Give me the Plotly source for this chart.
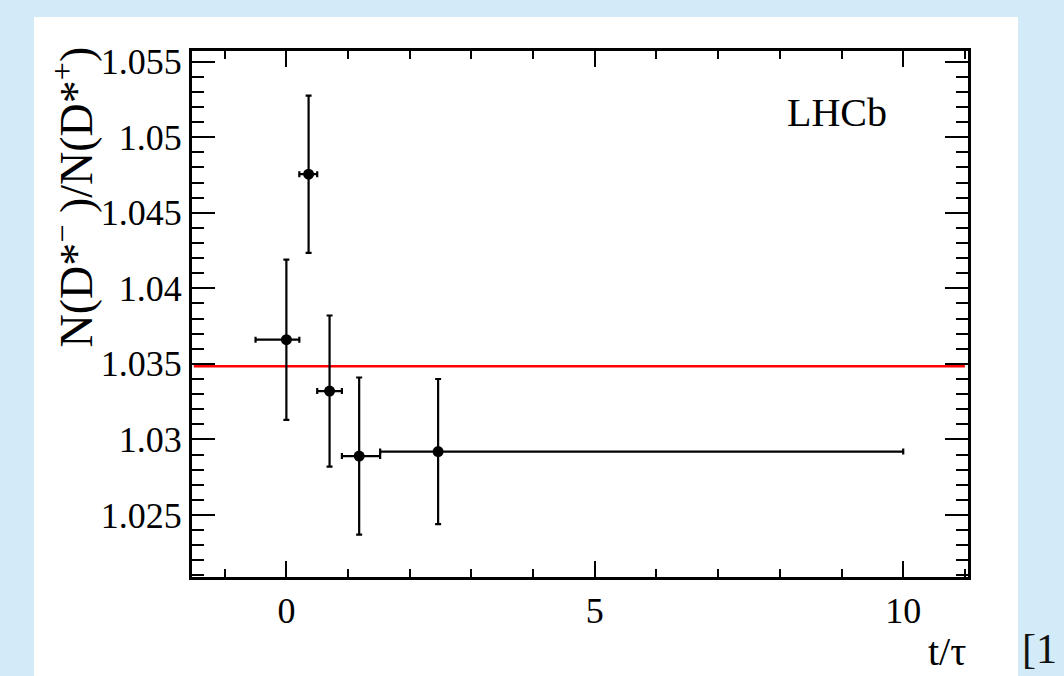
import plotly.graph_objects as go

# ---- data ----
t_mean = [0.0, 0.36, 0.70, 1.18, 2.46]
bin_lo = [-0.50, 0.21, 0.50, 0.90, 1.52]
bin_hi = [0.21, 0.50, 0.90, 1.52, 10.0]
ratio = [1.0366, 1.04755, 1.0332, 1.0289, 1.0292]
ratio_err = [0.0053, 0.0052, 0.0050, 0.0052, 0.0048]

fit_x = [-1.5, 11.0]
fit_value = 1.03485

x_tickvals = [0, 5, 10]
x_ticktext = ["0", "5", "10"]
y_tickvals = [1.025, 1.03, 1.035, 1.04, 1.045, 1.05, 1.055]
y_ticktext = ["1.025", "1.03", "1.035", "1.04", "1.045", "1.05", "1.055"]

# ---- layout geometry (pixels) ----
W, H = 1064, 676
L, R, T, B = 192, 96, 51, 99
PW, PH = W - L - R, H - T - B


def px(x):
    return (x - L) / PW


def py(y):
    return (H - B - y) / PH


FONT = "Liberation Serif"

err_plus_x = [h - m for h, m in zip(bin_hi, t_mean)]
err_minus_x = [m - l for l, m in zip(bin_lo, t_mean)]

fig = go.Figure()

fig.add_trace(go.Scatter(
    x=fit_x, y=[fit_value] * len(fit_x), mode="lines",
    line=dict(color="#ff0000", width=2.5), hoverinfo="skip", showlegend=False,
))

fig.add_trace(go.Scatter(
    x=t_mean, y=ratio, mode="markers",
    marker=dict(color="black", size=11),
    error_x=dict(type="data", array=err_plus_x, arrayminus=err_minus_x,
                 color="black", thickness=2.2, width=3),
    error_y=dict(type="data", array=ratio_err, color="black", thickness=2.2, width=3),
    showlegend=False,
))

axis_common = dict(
    showline=True, linecolor="black", linewidth=3, mirror="ticks",
    ticks="inside", tickcolor="black", tickwidth=2,
    showgrid=False, zeroline=False,
    tickfont=dict(family=FONT, size=36, color="black"),
)

fig.update_xaxes(
    range=[-1.53, 11.05], tickmode="array", tickvals=x_tickvals, ticktext=x_ticktext,
    ticklen=16,
    minor=dict(dtick=1, tick0=0, ticklen=8, tickwidth=2, ticks="inside", tickcolor="black"),
    **axis_common,
)
fig.update_yaxes(
    range=[1.0209, 1.0557], tickmode="array", tickvals=y_tickvals, ticktext=y_ticktext,
    ticklen=23,
    minor=dict(dtick=0.001, tick0=1.0, ticklen=12, tickwidth=2, ticks="inside", tickcolor="black"),
    **axis_common,
)

fig.add_shape(type="rect", xref="paper", yref="paper",
              x0=px(34), x1=px(1018), y0=py(676), y1=py(17),
              fillcolor="white", line=dict(width=0), layer="below")

fig.add_annotation(text="LHCb", xref="paper", yref="paper", x=px(785), y=py(112),
                   xanchor="left", yanchor="middle", showarrow=False,
                   font=dict(family=FONT, size=40, color="black"))
fig.add_annotation(text="t/τ", xref="paper", yref="paper", x=px(968), y=py(651),
                   xanchor="right", yanchor="middle", showarrow=False,
                   font=dict(family=FONT, size=40, color="black"))
fig.add_annotation(text="N(D*<sup>−</sup> )/N(D*<sup>+</sup>)", xref="paper", yref="paper",
                   x=px(72), y=py(45), xanchor="center", yanchor="top", textangle=-90,
                   showarrow=False, font=dict(family=FONT, size=46, color="black"))
fig.add_annotation(text="[1", xref="paper", yref="paper", x=px(1020), y=py(649),
                   xanchor="left", yanchor="middle", showarrow=False,
                   font=dict(family=FONT, size=42, color="#111111"))

fig.update_layout(
    width=W, height=H, margin=dict(l=L, r=R, t=T, b=B),
    paper_bgcolor="#d3ebf8", plot_bgcolor="white",
)

fig.write_html("out.html")
